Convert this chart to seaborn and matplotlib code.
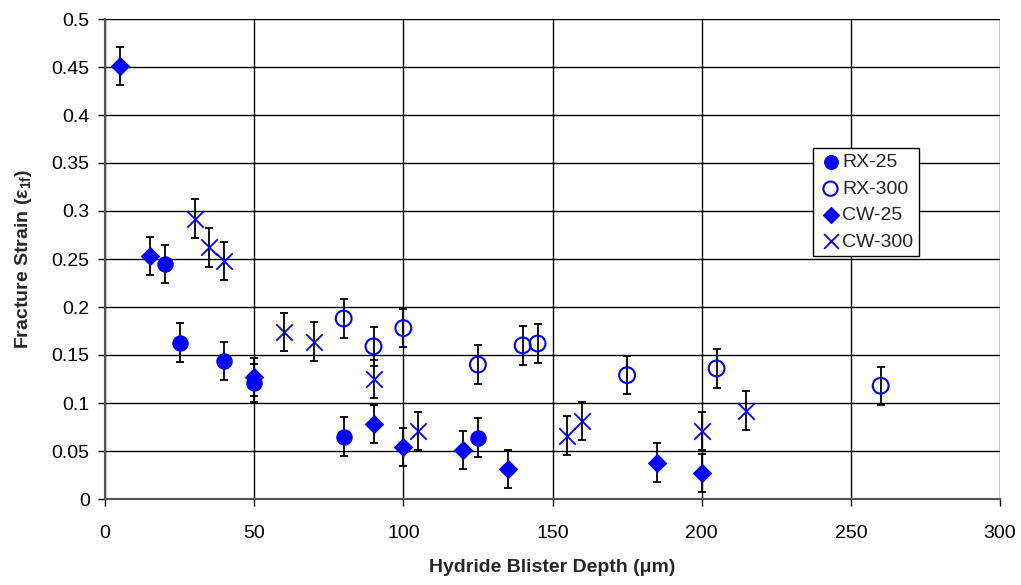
import numpy as np
import pandas as pd
import matplotlib
matplotlib.use("Agg")
import matplotlib.pyplot as plt
import seaborn as sns

# values
rx25_depth = [20, 25, 40, 50, 80, 125]
rx25_strain = [0.245, 0.163, 0.144, 0.121, 0.065, 0.064]

rx300_depth = [80, 90, 100, 125, 140, 145, 175, 205, 260]
rx300_strain = [0.188, 0.159, 0.178, 0.140, 0.160, 0.162, 0.129, 0.136, 0.118]

cw25_depth = [5, 15, 50, 90, 100, 120, 135, 185, 200]
cw25_strain = [0.451, 0.253, 0.127, 0.078, 0.054, 0.051, 0.031, 0.038, 0.027]

cw300_depth = [30, 35, 40, 60, 70, 90, 105, 155, 160, 200, 215]
cw300_strain = [0.292, 0.262, 0.248, 0.174, 0.164, 0.125, 0.071, 0.066, 0.081, 0.071, 0.092]

ERR = 0.02
BLUE = "#0000FF"

series = [
    ("RX-25", rx25_depth, rx25_strain, dict(marker="o", s=120, color=BLUE, edgecolor=BLUE)),
    ("RX-300", rx300_depth, rx300_strain, dict(marker="o", s=130, facecolor="none", edgecolor=BLUE, linewidth=1.5)),
    ("CW-25", cw25_depth, cw25_strain, dict(marker="D", s=85, color=BLUE, edgecolor=BLUE)),
    ("CW-300", cw300_depth, cw300_strain, dict(marker="x", s=140, color=BLUE, linewidth=1.3)),
]

sns.set_style("white")
plt.rcParams["font.family"] = ["Liberation Sans", "DejaVu Sans"]
plt.rcParams["mathtext.fontset"] = "custom"
plt.rcParams["mathtext.it"] = "Liberation Sans:italic"
plt.rcParams["mathtext.bf"] = "Liberation Sans:bold"

fig = plt.figure(figsize=(10.21, 5.85), dpi=100)
ax = fig.add_axes([105 / 1021, 1 - 499 / 585, 895 / 1021, 480 / 585])

for name, xs, ys, kw in series:
    df = pd.DataFrame({"depth": xs, "strain": ys})
    ax.errorbar(df["depth"], df["strain"], yerr=ERR, fmt="none", ecolor="black",
                elinewidth=1.3, capsize=3, capthick=1.3, zorder=2)
    sns.scatterplot(data=df, x="depth", y="strain", ax=ax, label=name, zorder=3, **kw)

ax.set_xlim(0, 300)
ax.set_ylim(0, 0.5)
ax.set_xticks(np.arange(0, 301, 50))
ax.set_yticks(np.arange(0, 0.51, 0.05))
ax.set_yticklabels(["0", "0.05", "0.1", "0.15", "0.2", "0.25", "0.3", "0.35", "0.4", "0.45", "0.5"])
ax.grid(True, color="black", linewidth=1.0)
ax.set_axisbelow(True)
ax.tick_params(axis="both", which="both", direction="out", length=5, width=1, labelsize=14,
               bottom=True, left=True, colors="black")
ax.tick_params(axis="y", pad=6)
ax.tick_params(axis="x", pad=14)
for side in ["top", "right"]:
    ax.spines[side].set_visible(False)
for side in ["left", "bottom"]:
    ax.spines[side].set_color("#555555")
    ax.spines[side].set_linewidth(1.5)

ax.set_xlabel("Hydride Blister Depth (\u03bcm)", fontsize=14, fontweight="bold", labelpad=12)
ax.set_ylabel(r"Fracture Strain ($\mathbf{\varepsilon_{1f}}$)", fontsize=14, fontweight="bold", labelpad=13)

leg = ax.legend(loc="upper left", bbox_to_anchor=((813 - 105) / 895, 1 - (148 - 19) / 480), frameon=True,
                fontsize=14, fancybox=False, edgecolor="black", framealpha=1,
                handletextpad=0.0, borderpad=0.3, borderaxespad=0, labelspacing=0.45,
                handlelength=1.2, markerscale=0.9)
leg.get_frame().set_linewidth(1.0)

fig.savefig("out.png", dpi=100)
